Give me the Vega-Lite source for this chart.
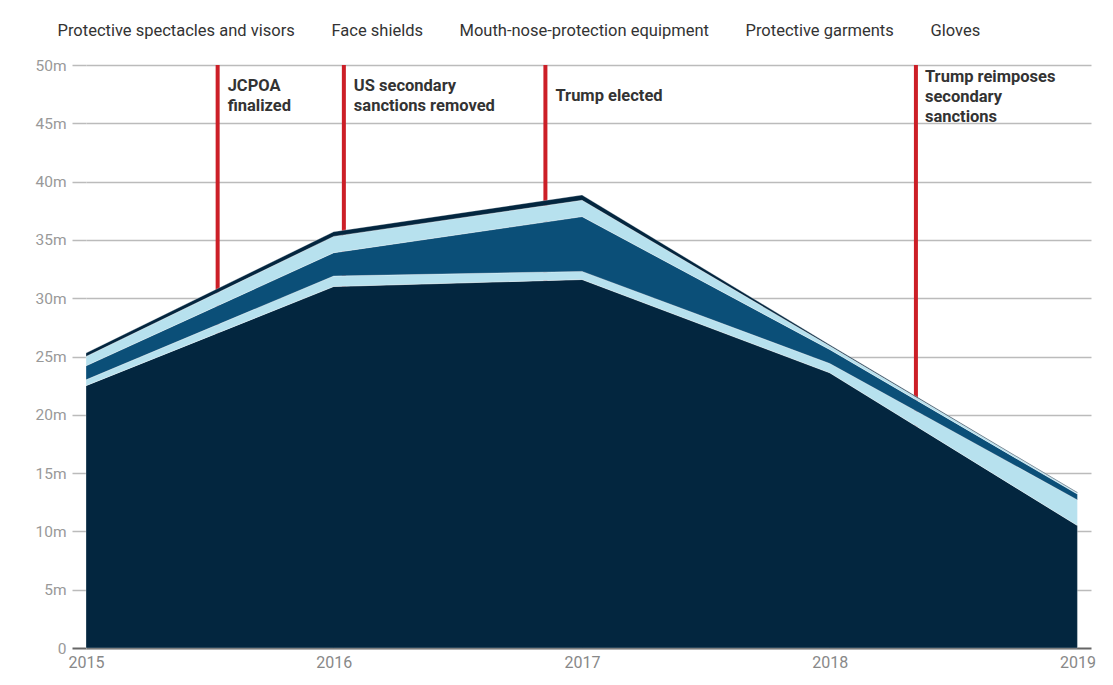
{
  "$schema": "https://vega.github.io/schema/vega-lite/v6.json",
  "width": 1005,
  "height": 583,
  "autosize": {"type": "none"},
  "padding": {"left": 86, "top": 65, "right": 22, "bottom": 37},
  "background": "white",
  "config": {
    "font": "Roboto",
    "view": {"stroke": null}
  },
  "datasets": {
    "imports": [
      {"year": "2015-01-01", "category": "Protective spectacles and visors", "idx": 1, "value": 22.5},
      {"year": "2016-01-01", "category": "Protective spectacles and visors", "idx": 1, "value": 31.0},
      {"year": "2017-01-01", "category": "Protective spectacles and visors", "idx": 1, "value": 31.6},
      {"year": "2018-01-01", "category": "Protective spectacles and visors", "idx": 1, "value": 23.6},
      {"year": "2019-01-01", "category": "Protective spectacles and visors", "idx": 1, "value": 10.5},
      {"year": "2015-01-01", "category": "Face shields", "idx": 2, "value": 0.5},
      {"year": "2016-01-01", "category": "Face shields", "idx": 2, "value": 0.9},
      {"year": "2017-01-01", "category": "Face shields", "idx": 2, "value": 0.7},
      {"year": "2018-01-01", "category": "Face shields", "idx": 2, "value": 0.8},
      {"year": "2019-01-01", "category": "Face shields", "idx": 2, "value": 2.2},
      {"year": "2015-01-01", "category": "Mouth-nose-protection equipment", "idx": 3, "value": 1.2},
      {"year": "2016-01-01", "category": "Mouth-nose-protection equipment", "idx": 3, "value": 2.0},
      {"year": "2017-01-01", "category": "Mouth-nose-protection equipment", "idx": 3, "value": 4.7},
      {"year": "2018-01-01", "category": "Mouth-nose-protection equipment", "idx": 3, "value": 1.2},
      {"year": "2019-01-01", "category": "Mouth-nose-protection equipment", "idx": 3, "value": 0.5},
      {"year": "2015-01-01", "category": "Protective garments", "idx": 4, "value": 0.8},
      {"year": "2016-01-01", "category": "Protective garments", "idx": 4, "value": 1.4},
      {"year": "2017-01-01", "category": "Protective garments", "idx": 4, "value": 1.4},
      {"year": "2018-01-01", "category": "Protective garments", "idx": 4, "value": 0.3},
      {"year": "2019-01-01", "category": "Protective garments", "idx": 4, "value": 0.1},
      {"year": "2015-01-01", "category": "Gloves", "idx": 5, "value": 0.3},
      {"year": "2016-01-01", "category": "Gloves", "idx": 5, "value": 0.4},
      {"year": "2017-01-01", "category": "Gloves", "idx": 5, "value": 0.45},
      {"year": "2018-01-01", "category": "Gloves", "idx": 5, "value": 0.1},
      {"year": "2019-01-01", "category": "Gloves", "idx": 5, "value": 0.05}
    ],
    "events": [
      {"date": "2015-07-14", "label": "JCPOA\nfinalized"},
      {"date": "2016-01-16", "label": "US secondary\nsanctions removed"},
      {"date": "2016-11-08", "label": "Trump elected"},
      {"date": "2018-05-08", "label": "Trump reimposes\nsecondary\nsanctions"}
    ]
  },
  "layer": [
    {
      "data": {"name": "events"},
      "mark": {"type": "rule", "color": "#cc1f27", "strokeWidth": 4},
      "encoding": {
        "x": {"field": "date", "type": "temporal", "scale": {"type": "utc", "domain": ["2015-01-01", "2019-01-21"]},
          "axis": {"title": null, "format": "%Y", "values": [{"year": 2015, "utc": true}, {"year": 2016, "utc": true}, {"year": 2017, "utc": true}, {"year": 2018, "utc": true}, {"year": 2019, "utc": true}],
            "ticks": false, "domain": false, "grid": false, "labelFlush": false, "labelPadding": 6, "labelFontSize": 16, "labelColor": "#888", "labelFont": "Roboto"}},
        "y": {"datum": 0, "type": "quantitative", "scale": {"domain": [0, 50], "nice": false},
          "axis": {"title": null, "values": [0, 5, 10, 15, 20, 25, 30, 35, 40, 45, 50],
            "labelExpr": "datum.value === 0 ? '0' : datum.value + 'm'",
            "domain": false, "tickSize": 14, "labelPadding": 6, "labelFontSize": 15.5, "labelColor": "#999", "labelFont": "Roboto",
            "grid": true,
            "gridColor": {"condition": {"test": "datum.value === 0", "value": "#666"}, "value": "#bbb"},
            "gridWidth": {"condition": {"test": "datum.value === 0", "value": 2}, "value": 1.5},
            "tickColor": {"condition": {"test": "datum.value === 0", "value": "#666"}, "value": "#bbb"},
            "tickWidth": {"condition": {"test": "datum.value === 0", "value": 2}, "value": 1.5}}},
        "y2": {"datum": 50}
      }
    },
    {
      "data": {"name": "imports"},
      "mark": {"type": "area", "stroke": "white", "strokeWidth": 0.5, "strokeOpacity": 0.6},
      "encoding": {
        "x": {"field": "year", "type": "temporal"},
        "y": {"field": "value", "type": "quantitative", "stack": "zero"},
        "order": {"field": "idx", "type": "quantitative"},
        "color": {"field": "category", "type": "nominal",
          "scale": {"domain": ["Protective spectacles and visors", "Face shields", "Mouth-nose-protection equipment", "Protective garments", "Gloves"],
            "range": ["#03263f", "#b7e1ee", "#0b4f78", "#b7e1ee", "#03263f"]},
          "legend": {"title": null, "orient": "none", "direction": "horizontal", "legendX": -45, "legendY": -42,
            "symbolSize": 0, "symbolOpacity": 0, "symbolStrokeWidth": 0, "labelOffset": 0, "columnPadding": 20,
            "labelFontSize": 16.5, "labelColor": "#333", "labelFont": "Roboto", "labelLimit": 400}}
      }
    },
    {
      "data": {"name": "events"},
      "transform": [{"filter": "split(datum.label, '\\n').length == 1"}],
      "mark": {"type": "text", "align": "left", "baseline": "middle", "dx": 10, "dy": 0, "lineBreak": "\n", "lineHeight": 20,
        "fontSize": 16.5, "fontWeight": "bold", "color": "#333", "font": "Roboto"},
      "encoding": {
        "x": {"field": "date", "type": "temporal"},
        "y": {"datum": 47.35, "type": "quantitative"},
        "text": {"field": "label"}
      }
    },
    {
      "data": {"name": "events"},
      "transform": [{"filter": "split(datum.label, '\\n').length == 2"}],
      "mark": {"type": "text", "align": "left", "baseline": "middle", "dx": 10, "dy": -10, "lineBreak": "\n", "lineHeight": 20,
        "fontSize": 16.5, "fontWeight": "bold", "color": "#333", "font": "Roboto"},
      "encoding": {
        "x": {"field": "date", "type": "temporal"},
        "y": {"datum": 47.35, "type": "quantitative"},
        "text": {"field": "label"}
      }
    },
    {
      "data": {"name": "events"},
      "transform": [{"filter": "split(datum.label, '\\n').length == 3"}],
      "mark": {"type": "text", "align": "left", "baseline": "middle", "dx": 9, "dy": -19, "lineBreak": "\n", "lineHeight": 20,
        "fontSize": 16.5, "fontWeight": "bold", "color": "#333", "font": "Roboto"},
      "encoding": {
        "x": {"field": "date", "type": "temporal"},
        "y": {"datum": 47.35, "type": "quantitative"},
        "text": {"field": "label"}
      }
    }
  ]
}
